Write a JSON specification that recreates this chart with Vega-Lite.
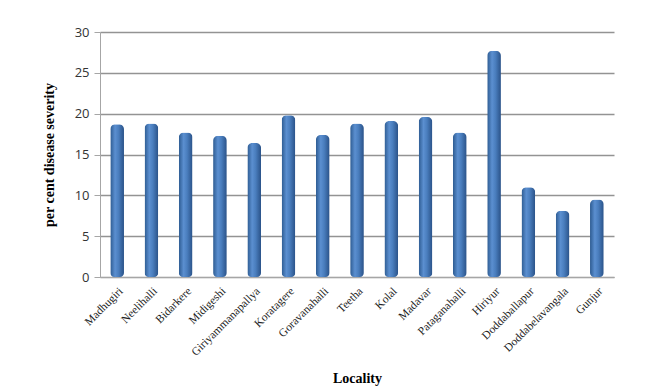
{
  "$schema": "https://vega.github.io/schema/vega-lite/v6.json",
  "width": 514,
  "height": 245,
  "autosize": {"type": "none"},
  "padding": {"left": 100, "top": 32, "right": 35, "bottom": 112},
  "background": "white",
  "config": {
    "view": {"stroke": null},
    "axis": {"labelColor": "#333333", "titleColor": "#000000"}
  },
  "data": {
    "values": [
      {"Locality": "Madhugiri", "severity": 18.7},
      {"Locality": "Neelihalli", "severity": 18.8},
      {"Locality": "Bidarkere", "severity": 17.7},
      {"Locality": "Midigeshi", "severity": 17.3},
      {"Locality": "Giriyammanapallya", "severity": 16.4},
      {"Locality": "Koratagere", "severity": 19.8},
      {"Locality": "Goravanahalli", "severity": 17.4},
      {"Locality": "Teetha", "severity": 18.8},
      {"Locality": "Kolal", "severity": 19.1},
      {"Locality": "Madavar", "severity": 19.6},
      {"Locality": "Pataganahalli", "severity": 17.7},
      {"Locality": "Hiriyur", "severity": 27.7},
      {"Locality": "Doddaballapur", "severity": 11.0},
      {"Locality": "Doddabelavangala", "severity": 8.1},
      {"Locality": "Gunjur", "severity": 9.5}
    ]
  },
  "mark": {
    "type": "bar",
    "cornerRadiusTopLeft": 5,
    "cornerRadiusTopRight": 5,
    "cornerRadiusBottomLeft": 4,
    "cornerRadiusBottomRight": 4,
    "color": {
      "gradient": "linear",
      "x1": 0, "y1": 0, "x2": 1, "y2": 0,
      "stops": [
        {"offset": 0, "color": "#2d5b91"},
        {"offset": 0.35, "color": "#5b8fd0"},
        {"offset": 0.6, "color": "#4a7ebe"},
        {"offset": 1, "color": "#2a5288"}
      ]
    }
  },
  "encoding": {
    "x": {
      "field": "Locality",
      "type": "nominal",
      "sort": null,
      "scale": {"paddingInner": 0.6, "paddingOuter": 0.3},
      "axis": {
        "title": "Locality",
        "titleFont": "Liberation Serif",
        "titleFontSize": 14,
        "titleFontWeight": "bold",
        "titlePadding": 14,
        "labelAngle": -45,
        "labelFont": "Liberation Serif",
        "labelFontSize": 11.5,
        "labelColor": "#222222",
        "labelPadding": 8,
        "ticks": false,
        "domainColor": "#a6a6a6",
        "domainWidth": 1.2
      }
    },
    "y": {
      "field": "severity",
      "type": "quantitative",
      "scale": {"domain": [0, 30]},
      "axis": {
        "title": "per cent disease severity",
        "titleFont": "Liberation Serif",
        "titleFontSize": 14,
        "titleFontWeight": "bold",
        "titlePadding": 18,
        "values": [0, 5, 10, 15, 20, 25, 30],
        "labelFont": "Open Sans",
        "labelFontSize": 13,
        "labelColor": "#333333",
        "labelPadding": 5,
        "tickColor": "#a6a6a6",
        "tickSize": 6,
        "domainColor": "#a6a6a6",
        "gridColor": "#939393",
        "gridWidth": 1.3
      }
    }
  }
}
